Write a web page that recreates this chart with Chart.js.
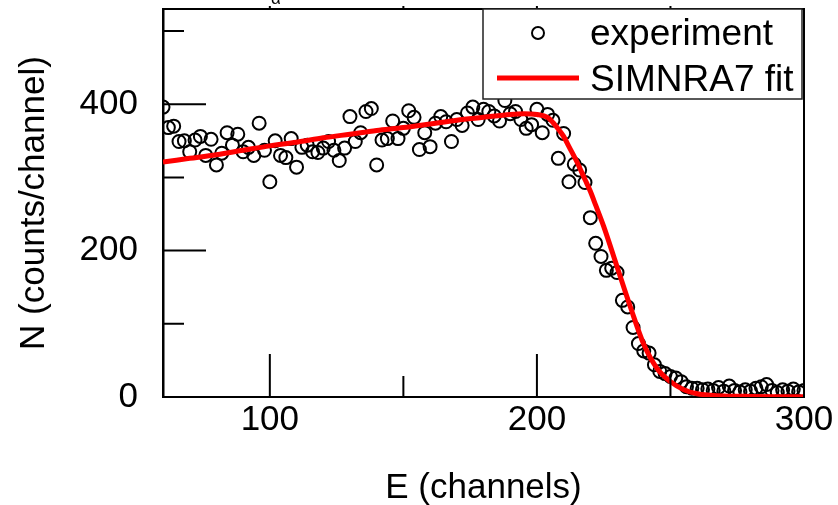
<!DOCTYPE html>
<html>
<head>
<meta charset="utf-8">
<title>RBS spectrum</title>
<script src="https://cdn.jsdelivr.net/npm/chart.js@4/dist/chart.umd.min.js"></script>
<style>
  html, body { margin: 0; padding: 0; background: #fff; }
</style>
</head>
<body>
<canvas id="spectrum" width="838" height="505"></canvas>
<script>
// measured spectrum, one point every 2 channels
var channels = [60, 62, 64, 66, 68, 70, 72, 74, 76, 78, 80, 82, 84, 86, 88, 90, 92, 94, 96, 98,
  100, 102, 104, 106, 108, 110, 112, 114, 116, 118, 120, 122, 124, 126, 128, 130, 132, 134, 136, 138,
  140, 142, 144, 146, 148, 150, 152, 154, 156, 158, 160, 162, 164, 166, 168, 170, 172, 174, 176, 178,
  180, 182, 184, 186, 188, 190, 192, 194, 196, 198, 200, 202, 204, 206, 208, 210, 212, 214, 216, 218,
  220, 222, 224, 226, 228, 230, 232, 234, 236, 238, 240, 242, 244, 246, 248, 250, 252, 254, 256, 258,
  260, 262, 264, 266, 268, 270, 272, 274, 276, 278, 280, 282, 284, 286, 288, 290, 292, 294, 296, 298, 300];
var counts = [396, 368, 370, 349, 350, 335, 351, 356, 330, 352, 317, 333, 361, 344, 359, 335, 341, 330, 374, 337,
  294, 350, 330, 327, 353, 314, 341, 344, 335, 334, 340, 349, 337, 323, 340, 383, 349, 361, 390, 394,
  317, 351, 353, 377, 353, 367, 391, 382, 338, 361, 342, 374, 383, 376, 349, 379, 371, 388, 396, 379,
  393, 390, 384, 377, 405, 387, 390, 379, 367, 372, 393, 361, 386, 378, 326, 360, 294, 318, 310, 293,
  245, 210, 192, 173, 176, 170, 132, 123, 95, 73, 63, 60, 44, 35, 32, 28, 26, 21, 14, 12,
  12, 10, 11, 9, 13, 8, 15, 9, 7, 10, 8, 12, 14, 17, 9, 6, 10, 8, 11, 7, 9];

// SIMNRA7 simulated curve
var fitChannels = [60, 70, 80, 90, 100, 110, 120, 130, 140, 150, 160, 170, 180, 190, 195, 200, 204, 206, 208, 210,
  212, 215, 218, 220, 222, 225, 230, 235, 240, 245, 250, 255, 260, 265, 270, 280, 290, 300];
var fitCounts = [321, 326, 331, 337, 343, 348, 354, 359, 364, 368, 373, 378, 382, 386, 387, 386, 382, 375, 366, 356,
  342, 321, 297, 281, 262, 233, 178, 123, 72, 39, 21, 10, 4.5, 2.5, 1.5, 0.8, 0.5, 0.4];

var xTicks = [100, 200, 300];
var xMinorTicks = [150, 250];
var yTicks = [0, 200, 400];
var yMinorTicks = [100, 300, 500];
var seriesNames = ['experiment', 'SIMNRA7 fit'];

var FONT = '"Liberation Sans", Arial, sans-serif';

// frame, inward ticks and the boxed legend
var frameTicks = {
  id: 'frameTicks',
  afterDraw: function (chart) {
    var ctx = chart.ctx, a = chart.chartArea;
    var x = chart.scales.x, y = chart.scales.y;
    ctx.save();
    ctx.strokeStyle = '#000';
    ctx.lineWidth = 2;
    ctx.beginPath();
    ctx.moveTo(a.left, a.top);
    ctx.lineTo(a.right, a.top);
    ctx.lineTo(a.right, a.bottom);
    xTicks.concat(xMinorTicks).forEach(function (v) {
      var px = x.getPixelForValue(v);
      var len = xTicks.indexOf(v) >= 0 ? 43 : 21;
      ctx.moveTo(px, a.bottom);
      ctx.lineTo(px, a.bottom - len);
      if (px < a.right - 2) {
        ctx.moveTo(px, a.top);
        ctx.lineTo(px, a.top - 3);
      }
    });
    yTicks.concat(yMinorTicks).forEach(function (v) {
      var py = y.getPixelForValue(v);
      var len = yTicks.indexOf(v) >= 0 ? 43 : 21;
      ctx.moveTo(a.left, py);
      ctx.lineTo(a.left + len, py);
    });
    ctx.stroke();

    // legend box
    var bw = 319, bh = 90;
    var bx = a.right - 2 - bw, by = a.top;
    ctx.fillStyle = '#fff';
    ctx.fillRect(bx, by, bw, bh);
    ctx.lineWidth = 1.5;
    ctx.strokeStyle = '#222';
    ctx.strokeRect(bx, by, bw, bh);

    ctx.lineWidth = 2;
    ctx.strokeStyle = '#000';
    ctx.beginPath();
    ctx.arc(bx + 55, by + 24, 6, 0, Math.PI * 2);
    ctx.stroke();

    ctx.lineWidth = 5;
    ctx.strokeStyle = '#ff0000';
    ctx.beginPath();
    ctx.moveTo(bx + 14, by + 69);
    ctx.lineTo(bx + 96, by + 69);
    ctx.stroke();

    ctx.fillStyle = '#000';
    ctx.font = '37px ' + FONT;
    ctx.textAlign = 'left';
    ctx.textBaseline = 'alphabetic';
    ctx.fillText(seriesNames[0], bx + 107, by + 36);
    ctx.fillText(seriesNames[1], bx + 107, by + 82);

    // clipped symbol left over from the figure above
    ctx.font = '17px ' + FONT;
    ctx.fillText('\u03b1', 271, 4);
    ctx.restore();
  }
};

var ctx = document.getElementById('spectrum').getContext('2d');
var chart = new Chart(ctx, {
  type: 'scatter',
  data: {
    datasets: [{
      type: 'line',
      label: seriesNames[1],
      data: fitChannels.map(function (c, i) { return { x: c, y: fitCounts[i] }; }),
      borderColor: '#ff0000',
      borderWidth: 5,
      pointRadius: 0,
      cubicInterpolationMode: 'monotone',
      fill: false,
      clip: 0,
      order: 1,
    }, {
      label: seriesNames[0],
      data: channels.map(function (c, i) { return { x: c, y: counts[i] }; }),
      pointStyle: 'circle',
      pointRadius: 6.5,
      pointBorderWidth: 2,
      pointBorderColor: '#000',
      pointBackgroundColor: 'rgba(0,0,0,0)',
      clip: 0,
      order: 2,
    }],
  },
  options: {
    responsive: false,
    animation: false,
    devicePixelRatio: 1,
    layout: { padding: { top: 9, right: 34, left: 0, bottom: 0 } },
    plugins: {
      legend: { display: false },
      tooltip: { enabled: false },
    },
    scales: {
      x: {
        type: 'linear',
        position: 'bottom',
        min: 60,
        max: 300,
        afterBuildTicks: function (s) { s.ticks = xTicks.map(function (v) { return { value: v }; }); },
        afterFit: function (s) { s.height = 108; s.paddingLeft = 0; s.paddingRight = 0; },
        grid: { display: true, drawOnChartArea: false, drawTicks: false },
        border: { display: true, color: '#000', width: 2 },
        ticks: {
          color: '#000',
          padding: 2,
          maxRotation: 0,
          font: { family: FONT, size: 35 },
        },
        title: {
          display: true,
          text: 'E (channels)',
          color: '#000',
          font: { family: FONT, size: 35 },
          padding: { top: 0, bottom: -4 },
        },
      },
      y: {
        type: 'linear',
        position: 'left',
        min: 0,
        max: 530,
        afterBuildTicks: function (s) { s.ticks = yTicks.map(function (v) { return { value: v }; }); },
        afterFit: function (s) { s.width = 163; s.paddingTop = 0; s.paddingBottom = 0; },
        grid: { display: true, drawOnChartArea: false, drawTicks: false },
        border: { display: true, color: '#000', width: 2.5 },
        ticks: {
          color: '#000',
          padding: 25,
          font: { family: FONT, size: 35 },
        },
        title: {
          display: true,
          text: 'N (counts/channel)',
          color: '#000',
          font: { family: FONT, size: 35 },
          padding: { top: 13, bottom: 0 },
        },
      },
    },
  },
  plugins: [frameTicks],
});
</script>
</body>
</html>
